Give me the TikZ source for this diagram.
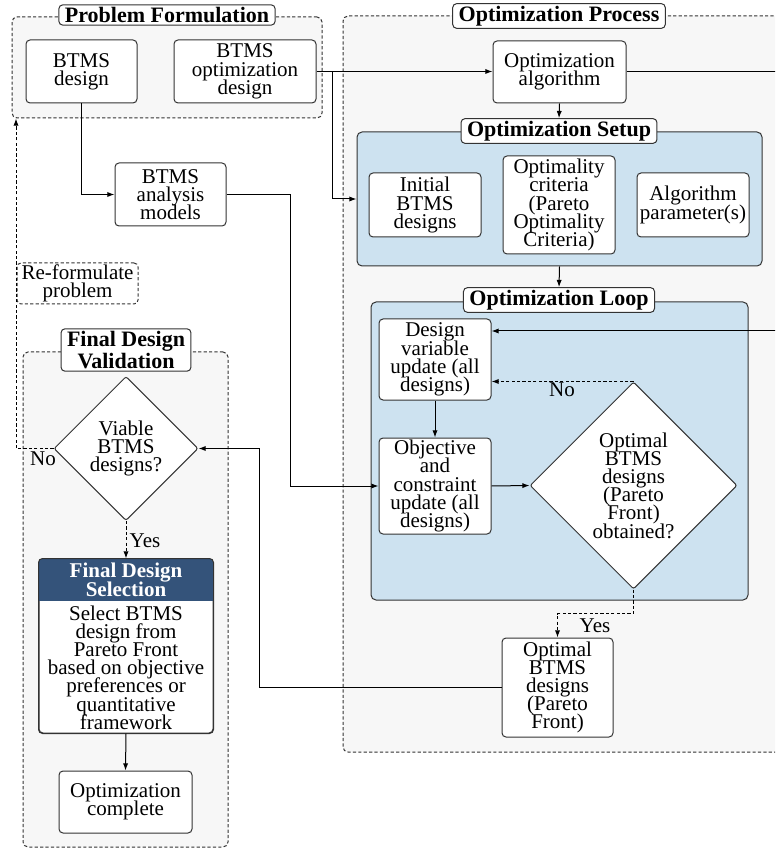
\documentclass[tikz,border=0pt]{standalone}
\usepackage{fontspec}
\setmainfont{Liberation Serif}
\usetikzlibrary{arrows.meta,shapes.geometric}

\definecolor{grpfill}{HTML}{F7F7F7}
\definecolor{stagefill}{HTML}{CDE2F0}
\definecolor{hdrblue}{HTML}{34537A}
\definecolor{edgegray}{HTML}{333333}

\begin{document}
% tight line spacing: never fall back to \lineskip between lines
\lineskiplimit=-100pt
\begin{tikzpicture}[x=0.5pt,y=-0.5pt,
  txt/.style={font=\fontsize{10.5}{9.1}\selectfont, align=center, inner sep=0pt},
  box/.style={txt, draw=edgegray, fill=white, rounded corners=2pt, line width=0.5pt},
  dia/.style={txt, diamond, aspect=1, draw=edgegray, fill=white, line width=0.5pt, rounded corners=1pt},
  dsh/.style={dash pattern=on 1.6pt off 1.1pt},
  grp/.style={draw=edgegray, fill=grpfill, dsh, rounded corners=2.5pt, line width=0.5pt, inner sep=0pt},
  stage/.style={draw=edgegray, fill=stagefill, rounded corners=2.5pt, line width=0.5pt, inner sep=0pt},
  ttl/.style={font=\fontsize{11}{11}\selectfont\bfseries, align=center, draw=edgegray, fill=white,
              rounded corners=2pt, line width=0.5pt, inner xsep=3pt, inner ysep=1.2pt},
  lbl/.style={font=\fontsize{10.5}{9.1}\selectfont, inner sep=0pt},
  arr/.style={line width=0.5pt, -{Latex[length=3.6pt,width=2.6pt]}},
  ln/.style={line width=0.5pt}
]
\clip (0,0) rectangle (775,849);
\fill[white] (0,0) rectangle (775,849);

% group frames
\node[grp, minimum width=328.5pt, minimum height=368pt] (opg) at (671.5,384) {};
\node[grp, minimum width=155pt, minimum height=50.5pt] (pfg) at (167,67.5) {};
\node[grp, minimum width=102.5pt, minimum height=247.5pt] (fdv) at (125.5,599.5) {};
\node[stage, minimum width=202.5pt, minimum height=67pt] (setup) at (559.5,199) {};
\node[stage, minimum width=188.5pt, minimum height=149pt] (loop) at (559.5,451) {};

% problem formulation
\node[box, minimum width=55.5pt, minimum height=31.5pt] (pd) at (81.5,71.5) {BTMS\\design};
\node[box, minimum width=71pt, minimum height=31.5pt] (pod) at (245,71.5) {BTMS\\optimization\\design};
\node[box, minimum width=55.5pt, minimum height=31.5pt] (ana) at (170.5,194.5) {BTMS\\analysis\\models};
\node[box, dsh, fill=none, minimum width=60.5pt, minimum height=20.5pt] (ref) at (77.5,283.5) {Re-formulate\\problem};

% optimization process
\node[box, minimum width=66.5pt, minimum height=31pt] (alg) at (559.5,72) {Optimization\\algorithm};
\node[box, minimum width=56pt, minimum height=32pt] (init) at (425,205) {Initial\\BTMS\\designs};
\node[box, minimum width=56pt, minimum height=49pt] (crit) at (559,205) {Optimality\\criteria\\(Pareto\\Optimality\\Criteria)};
\node[box, minimum width=56pt, minimum height=32pt] (par) at (693,205) {Algorithm\\parameter(s)};
\node[box, minimum width=56pt, minimum height=40.5pt] (dv) at (435,359.5) {Design\\variable\\update (all\\designs)};
\node[box, minimum width=56pt, minimum height=48pt] (obj) at (435,486) {Objective\\and\\constraint\\update (all\\designs)};
\node[dia, minimum width=103.5pt, minimum height=103.5pt] (opt) at (633.5,485.5) {Optimal\\BTMS\\designs\\(Pareto\\Front)\\obtained?};
\node[box, minimum width=55.5pt, minimum height=49.5pt] (pf) at (557.5,687.5) {Optimal\\BTMS\\designs\\(Pareto\\Front)};

% final design validation
\node[dia, minimum width=72pt, minimum height=72pt] (via) at (126,448.5) {Viable\\BTMS\\designs?};
\node[box, minimum width=87pt, minimum height=87pt] (sel) at (126,646) {};
\begin{scope}
  \clip[rounded corners=2pt] (sel.north west) rectangle (sel.south east);
  \fill[hdrblue] (sel.north west) rectangle ([yshift=-21pt]sel.north east);
\end{scope}
\draw[edgegray, line width=0.5pt, rounded corners=2pt] (sel.north west) rectangle (sel.south east);
\node[txt, font=\fontsize{10.5}{9.2}\selectfont\bfseries, text=white] (selh) at (126,580) {Final Design\\Selection};
\node[txt] (selb) at (126,667.5) {Select BTMS\\design from\\Pareto Front\\based on objective\\preferences or\\quantitative\\framework};
\node[box, minimum width=66.5pt, minimum height=31pt] (cpl) at (125.5,802) {Optimization\\complete};

% connectors
\coordinate (br) at (332,71.5);
\coordinate (ak) at (290,194.5);
\coordinate (rt) at (800,72);
\coordinate (vk) at (259,687.5);
\coordinate (nk) at (16,448.5);

\draw[arr] (pd.south) |- (ana.west);
\draw[arr] (pod.east) -- (pod.east -| alg.west);
\draw[arr] (br) |- (setup.west);
\draw[arr] (ana.east) -- (ak) |- (obj.west);
\draw[ln] (alg.east) -- (rt);
\draw[arr] (rt) |- ([yshift=14.25pt]dv.east);
\draw[arr] (dv.south) -- (obj.north);
\draw[arr] (obj.east) -- (opt.west);
\draw[arr, dsh] (opt.north) -- (opt.north -| dv.east);
\draw[arr, dsh] (opt.south) -- ++(0,24) -| (pf.north);
\draw[arr] (pf.west) -- (vk) |- (via.east);
\draw[arr, dsh] (via.west) -- (nk) -- (nk |- pfg.south);
\draw[arr, dsh] (via.south) -- (sel.north);
\draw[arr] (sel.south) -- (cpl.north);

\node[lbl] (no1) at (562,390) {No};
\node[lbl] (yes1) at (595,626) {Yes};
\node[lbl] (no2) at (43,459) {No};
\node[lbl] (yes2) at (145,541) {Yes};

% titles
\node[ttl] (pft) at (167,15) {Problem Formulation};
\node[ttl] (opt-t) at (559,16) {Optimization Process};
\node[ttl] (sett) at (559,131) {Optimization Setup};
\node[ttl] (loopt) at (559,300) {Optimization Loop};
\node[ttl] (fdvt) at (126,350) {Final Design\\Validation};

\draw[arr] (alg.south) -- (sett.north);
\draw[arr] (setup.south) -- (loopt.north);
\end{tikzpicture}
\end{document}
